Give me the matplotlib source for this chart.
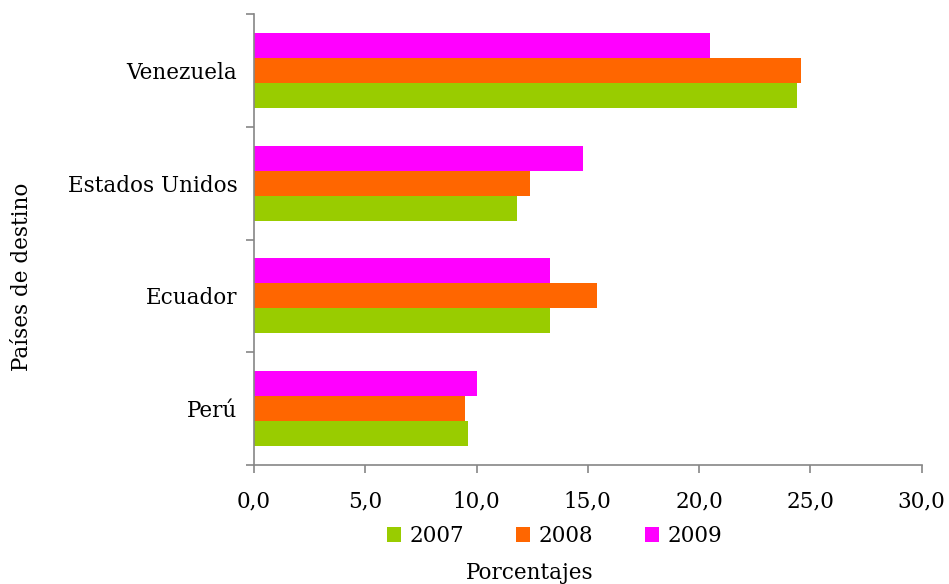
import numpy as np
import matplotlib.pyplot as plt

# datos
paises = ["Perú", "Ecuador", "Estados Unidos", "Venezuela"]
anios = ["2007", "2008", "2009"]
v2007 = [9.6, 13.3, 11.8, 24.4]
v2008 = [9.5, 15.4, 12.4, 24.6]
v2009 = [10.0, 13.3, 14.8, 20.5]
colores = ["#99cc00", "#ff6600", "#ff00ff"]

plt.rcParams['font.family'] = ['DejaVu Serif']
fs = 15.5

fig = plt.figure(figsize=(9.49, 5.84), dpi=100)
ax = fig.add_axes([254/949, 119/584, 667.5/949, 451/584])

y = np.arange(len(paises))
h = 0.222
series = [v2007, v2008, v2009]
for i, (vals, col, lab) in enumerate(zip(series, colores, anios)):
    ax.barh(y + (i - 1) * h, vals, height=h, color=col, label=lab, linewidth=0)

ax.set_xlim(0, 30)
ax.set_ylim(-0.5, len(paises) - 0.5)

ax.set_xticks(np.arange(0, 31, 5))
ax.set_xticklabels([f"{v:.1f}".replace(".", ",") for v in np.arange(0, 31, 5)])

# ticks en los limites de categoria, etiquetas en el centro
ax.set_yticks(np.arange(-0.5, len(paises), 1.0))
ax.set_yticklabels([])
ax.set_yticks(y, minor=True)
ax.set_yticklabels(paises, minor=True)

gris = "#868686"
for s in ["top", "right"]:
    ax.spines[s].set_visible(False)
for s in ["left", "bottom"]:
    ax.spines[s].set_color(gris)
    ax.spines[s].set_linewidth(1.2)

ax.tick_params(axis="x", which="major", length=6, color=gris, width=1.2,
               labelsize=fs, pad=12)
ax.tick_params(axis="y", which="major", length=6, color=gris, width=1.2)
ax.tick_params(axis="y", which="minor", length=0, labelsize=fs, pad=12)

fig.text(22/949, 1 - 277/584, "Países de destino", rotation=90,
         ha="center", va="center", fontsize=fs)
fig.text(530/949, 1 - 573/584, "Porcentajes", ha="center", va="center",
         fontsize=fs)

fig.legend(loc="center", bbox_to_anchor=(555/949, 1 - 536/584), ncol=3,
           frameon=False, fontsize=fs, handlelength=0.65, handleheight=0.65,
           handletextpad=0.4, columnspacing=2.4, borderpad=0)

plt.savefig("out.png", dpi=100)
